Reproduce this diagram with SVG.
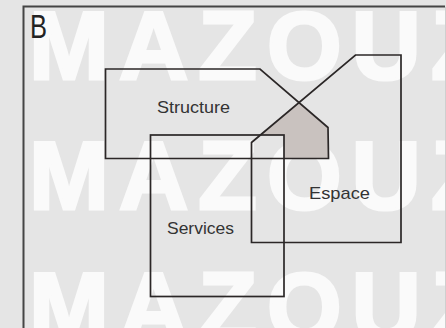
<svg xmlns="http://www.w3.org/2000/svg" width="446" height="328" viewBox="0 0 446 328">
<style>
.wm{font-family:"Liberation Sans",Arial,sans-serif;font-weight:bold;font-size:96px;fill:#fafafa;stroke:#fafafa;stroke-width:3;letter-spacing:10px}
.shape{fill:none;stroke:#2b2727;stroke-width:1.7;stroke-linejoin:miter}
.lbl{font-family:"Liberation Sans",Arial,sans-serif;font-size:17px;fill:#333}
</style>
<rect x="0" y="0" width="446" height="328" fill="#e5e5e5"/>
<g id="watermark">
<text class="wm" x="29" y="79">MAZOUZ</text>
<text class="wm" x="29" y="209">MAZOUZ</text>
<text class="wm" x="29" y="340">MAZOUZ</text>
</g>
<g id="frame">
<path d="M23.5,328 V6.5 H445" fill="none" stroke="#454545" stroke-width="2"/>
<line x1="445.5" y1="7" x2="445.5" y2="328" stroke="#cfcfcf" stroke-width="1"/>
<text x="30" y="38" font-family="'Liberation Sans',Arial,sans-serif" font-size="34" fill="#222" textLength="17" lengthAdjust="spacingAndGlyphs">B</text>
</g>
<g id="overlap">
<polygon points="260.4,135 298.9,102.7 328,127.5 328.5,158.5 284,158.5 284,135" fill="#c9c2bf"/>
</g>
<g id="structure">
<polygon class="shape" points="105.5,69 260,69 328,127.5 328.5,158.5 105.5,158.5"/>
<text class="lbl" x="157" y="113" textLength="73" lengthAdjust="spacingAndGlyphs">Structure</text>
</g>
<g id="espace">
<polygon class="shape" points="251.5,142.5 355.5,55 401,55 401,242.5 251.5,242.5"/>
<text class="lbl" x="309" y="198.5" textLength="61" lengthAdjust="spacingAndGlyphs">Espace</text>
</g>
<g id="services">
<rect class="shape" x="150.5" y="135" width="133.5" height="161.5"/>
<text class="lbl" x="167" y="233.5" textLength="67" lengthAdjust="spacingAndGlyphs">Services</text>
</g>
<g id="connectors"/>
</svg>
